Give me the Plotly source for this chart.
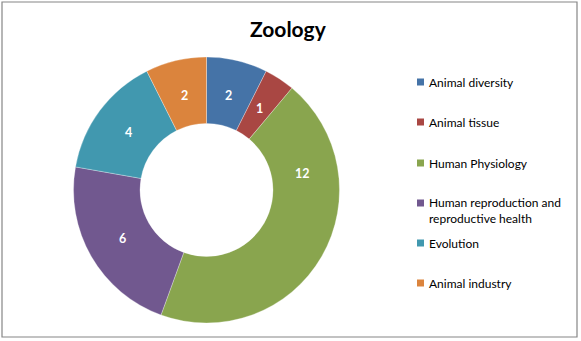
import math
import plotly.graph_objects as go

# Topics and number of items per topic
categories = ["Animal diversity", "Animal tissue", "Human Physiology",
              "Human reproduction and<br>reproductive health", "Evolution", "Animal industry"]
values = [2, 1, 12, 6, 4, 2]
colors = ["#4573A7", "#A94743", "#89A54E", "#71588F", "#4198AF", "#DB843D"]

W, H = 581, 341
FONT = "Lato, 'Open Sans', sans-serif"

# ring geometry (pixels)
CX, CY, R_OUT = 206.5, 190, 133
R_LABEL = 97

fig = go.Figure(go.Pie(
    labels=categories,
    values=values,
    hole=0.5,
    sort=False,
    direction="clockwise",
    rotation=0,
    marker=dict(colors=colors, line=dict(color="rgba(255,255,255,0.6)", width=0.5)),
    textinfo="none",
    showlegend=False,
    hoverinfo="label+value",
    domain=dict(x=[(CX - R_OUT) / W, (CX + R_OUT) / W],
                y=[1 - (CY + R_OUT) / H, 1 - (CY - R_OUT) / H]),
))

shapes = [dict(type="rect", xref="paper", yref="paper",
               x0=2 / W, x1=577 / W, y0=1 - 337 / H, y1=1 - 2 / H,
               line=dict(color="#868686", width=1.2), fillcolor="rgba(0,0,0,0)")]
annotations = [dict(text="<b>Zoology</b>", x=288 / W, y=1 - 28 / H, xref="paper", yref="paper",
                    showarrow=False, xanchor="center", yanchor="middle",
                    font=dict(family=FONT, size=21, color="black"))]

# value labels at the middle of each ring segment (the big slice's label was dragged upward)
label_angle_override = {"Human Physiology": 80}
total = sum(values)
cum = 0
for lab, v in zip(categories, values):
    mid = (cum + v / 2) / total * 360
    cum += v
    ang = math.radians(label_angle_override.get(lab, mid))
    px = CX + R_LABEL * math.sin(ang)
    py = CY - R_LABEL * math.cos(ang)
    annotations.append(dict(text=f"<b>{v}</b>", x=px / W, y=1 - py / H, xref="paper", yref="paper",
                            showarrow=False, xanchor="center", yanchor="middle",
                            font=dict(family=FONT, size=12.5, color="white")))

# hand-built legend on the right
legend_y = [82, 122, 163, 210, 243, 283]
for lab, col, yc in zip(categories, colors, legend_y):
    my = yc - 7 if "<br>" in lab else yc
    shapes.append(dict(type="rect", xref="paper", yref="paper",
                       x0=417 / W, x1=424 / W, y0=1 - (my + 3.5) / H, y1=1 - (my - 3.5) / H,
                       line=dict(width=0), fillcolor=col))
    annotations.append(dict(text=lab, x=427 / W, y=1 - yc / H, xref="paper", yref="paper",
                            showarrow=False, xanchor="left", yanchor="middle", align="left",
                            font=dict(family=FONT, size=12, color="black")))

fig.update_layout(
    width=W, height=H,
    margin=dict(l=0, r=0, t=0, b=0),
    paper_bgcolor="white",
    plot_bgcolor="white",
    shapes=shapes,
    annotations=annotations,
)

fig.write_html("out.html")
